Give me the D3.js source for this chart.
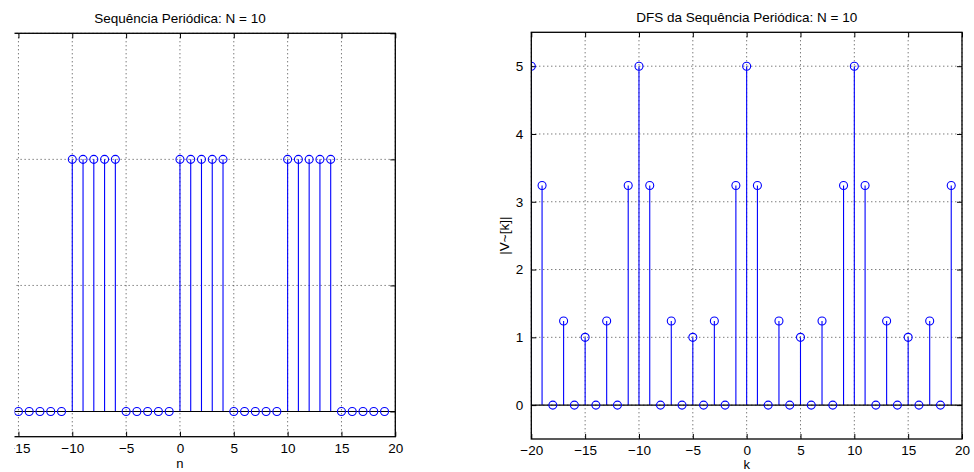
<!DOCTYPE html>
<html><head><meta charset="utf-8">
<script src="https://cdn.jsdelivr.net/npm/d3@7"></script>
<style>body{margin:0;background:#fff}svg{display:block;font-family:"Liberation Sans",Arial,sans-serif}</style>
</head><body><svg id="c" width="974" height="472"></svg>
<script>
// ---- data ----
const nVals = [-20,-19,-18,-17,-16,-15,-14,-13,-12,-11,-10,-9,-8,-7,-6,-5,-4,-3,-2,-1,0,1,2,3,4,5,6,7,8,9,10,11,12,13,14,15,16,17,18,19];
const xSeq  = [1,1,1,1,1, 0,0,0,0,0, 1,1,1,1,1, 0,0,0,0,0, 1,1,1,1,1, 0,0,0,0,0, 1,1,1,1,1, 0,0,0,0,0];
const kVals = nVals.slice();
const magDFS = [5,3.24,0,1.24,0,1,0,1.24,0,3.24,
                5,3.24,0,1.24,0,1,0,1.24,0,3.24,
                5,3.24,0,1.24,0,1,0,1.24,0,3.24,
                5,3.24,0,1.24,0,1,0,1.24,0,3.24];
const xTicks = [-20,-15,-10,-5,0,5,10,15,20];
const yTicksLeft = [0,0.5,1,1.5];
const yTicksRight = [0,1,2,3,4,5];
const titles = ["Sequência Periódica: N = 10","DFS da Sequência Periódica: N = 10"];
const xLabels = ["n","k"];
const yLabels = ["", "|V~[k]|"];

const svg = d3.select("#c");
const FS = 13.5;
const fmt = d => d<0 ? "\u2212"+(-d) : String(d);

function panel(opts){
  const {x, y, xs, ys, yt, title, xl, yl, clipId, showY, minXLabel} = opts;
  const g = svg.append("g");
  const [x0,x1] = x.range(), [y0,y1] = y.range();
  g.append("defs").append("clipPath").attr("id",clipId)
    .append("rect").attr("x",x0).attr("y",y1).attr("width",x1-x0).attr("height",y0-y1);
  // grid
  const grid = g.append("g").attr("stroke","#444").attr("stroke-width",1).attr("stroke-dasharray","1,3");
  xTicks.forEach(t=>{ grid.append("line").attr("x1",x(t)).attr("x2",x(t)).attr("y1",y1).attr("y2",y0); });
  yt.forEach(t=>{ grid.append("line").attr("x1",x0).attr("x2",x1).attr("y1",y(t)).attr("y2",y(t)); });
  // axes (ticks inside, box)
  const tl = 5;
  const bottom = d3.axisBottom(x).tickValues(xTicks).tickSizeInner(-tl).tickSizeOuter(0).tickPadding(6.5)
    .tickFormat(d => d < minXLabel ? "" : fmt(d));
  const top = d3.axisTop(x).tickValues(xTicks).tickSizeInner(-tl).tickSizeOuter(0).tickFormat("");
  const left = d3.axisLeft(y).tickValues(yt).tickSizeInner(-tl).tickSizeOuter(0).tickPadding(8)
    .tickFormat(d => showY ? fmt(d) : "");
  const right = d3.axisRight(y).tickValues(yt).tickSizeInner(-tl).tickSizeOuter(0).tickFormat("");
  const styleAx = a => { a.select(".domain").remove(); a.selectAll("line").attr("stroke","#000");
    a.selectAll("text").attr("font-size",FS).attr("fill","#000").attr("font-family","Liberation Sans, Arial, sans-serif"); };
  g.append("g").attr("transform",`translate(0,${y0})`).call(bottom).call(styleAx);
  g.append("g").attr("transform",`translate(0,${y1})`).call(top).call(styleAx);
  g.append("g").attr("transform",`translate(${x0},0)`).call(left).call(styleAx);
  g.append("g").attr("transform",`translate(${x1},0)`).call(right).call(styleAx);
  // stems
  const data = xs.map((v,i)=>({k:v,v:ys[i]}));
  const pg = g.append("g").attr("clip-path",`url(#${clipId})`);
  pg.selectAll("line.stem").data(data.filter(d=>d.v!==0)).join("line")
    .attr("x1",d=>x(d.k)).attr("x2",d=>x(d.k)).attr("y1",y(0)).attr("y2",d=>y(d.v))
    .attr("stroke","#0000ff").attr("stroke-width",1.1);
  pg.append("line").attr("x1",x0).attr("x2",x1).attr("y1",y(0)).attr("y2",y(0)).attr("stroke","#000").attr("stroke-width",1.2);
  pg.selectAll("circle").data(data).join("circle")
    .attr("cx",d=>x(d.k)).attr("cy",d=>y(d.v)).attr("r",4)
    .attr("fill","none").attr("stroke","#0000ff").attr("stroke-width",1.1);
  // box
  g.append("rect").attr("x",x0).attr("y",y1).attr("width",x1-x0).attr("height",y0-y1)
    .attr("fill","none").attr("stroke","#000").attr("stroke-width",1.3);
  // labels
  const cx = (x0+x1)/2;
  g.append("text").attr("x",cx).attr("y",y1-10).attr("text-anchor","middle").attr("font-size",FS).text(title);
  g.append("text").attr("x",cx).attr("y",Math.min(y0+31,469.2)).attr("text-anchor","middle").attr("font-size",13).text(xl);
  if(yl) g.append("text").attr("transform",`translate(${x0-22},${(y0+y1)/2}) rotate(-90)`).attr("text-anchor","middle").attr("font-size",FS).text(yl);
}

const xL = d3.scaleLinear().domain([-20,20]).range([-35.4,395.3]);
const yL = d3.scaleLinear().domain([-0.1,1.5]).range([436.7,33.3]);
panel({x:xL,y:yL,xs:nVals,ys:xSeq,yt:yTicksLeft,title:titles[0],xl:xLabels[0],yl:yLabels[0],clipId:"cl",showY:false,minXLabel:-15});

const xR = d3.scaleLinear().domain([-20,20]).range([531.3,962]);
const yR = d3.scaleLinear().domain([-0.5,5.5]).range([439,32.3]);
panel({x:xR,y:yR,xs:kVals,ys:magDFS,yt:yTicksRight,title:titles[1],xl:xLabels[1],yl:yLabels[1],clipId:"cr",showY:true,minXLabel:-20});

// crop the left edge as in the reference
svg.append("rect").attr("x",0).attr("y",0).attr("width",14.5).attr("height",472).attr("fill","#fff");
</script></body></html>
